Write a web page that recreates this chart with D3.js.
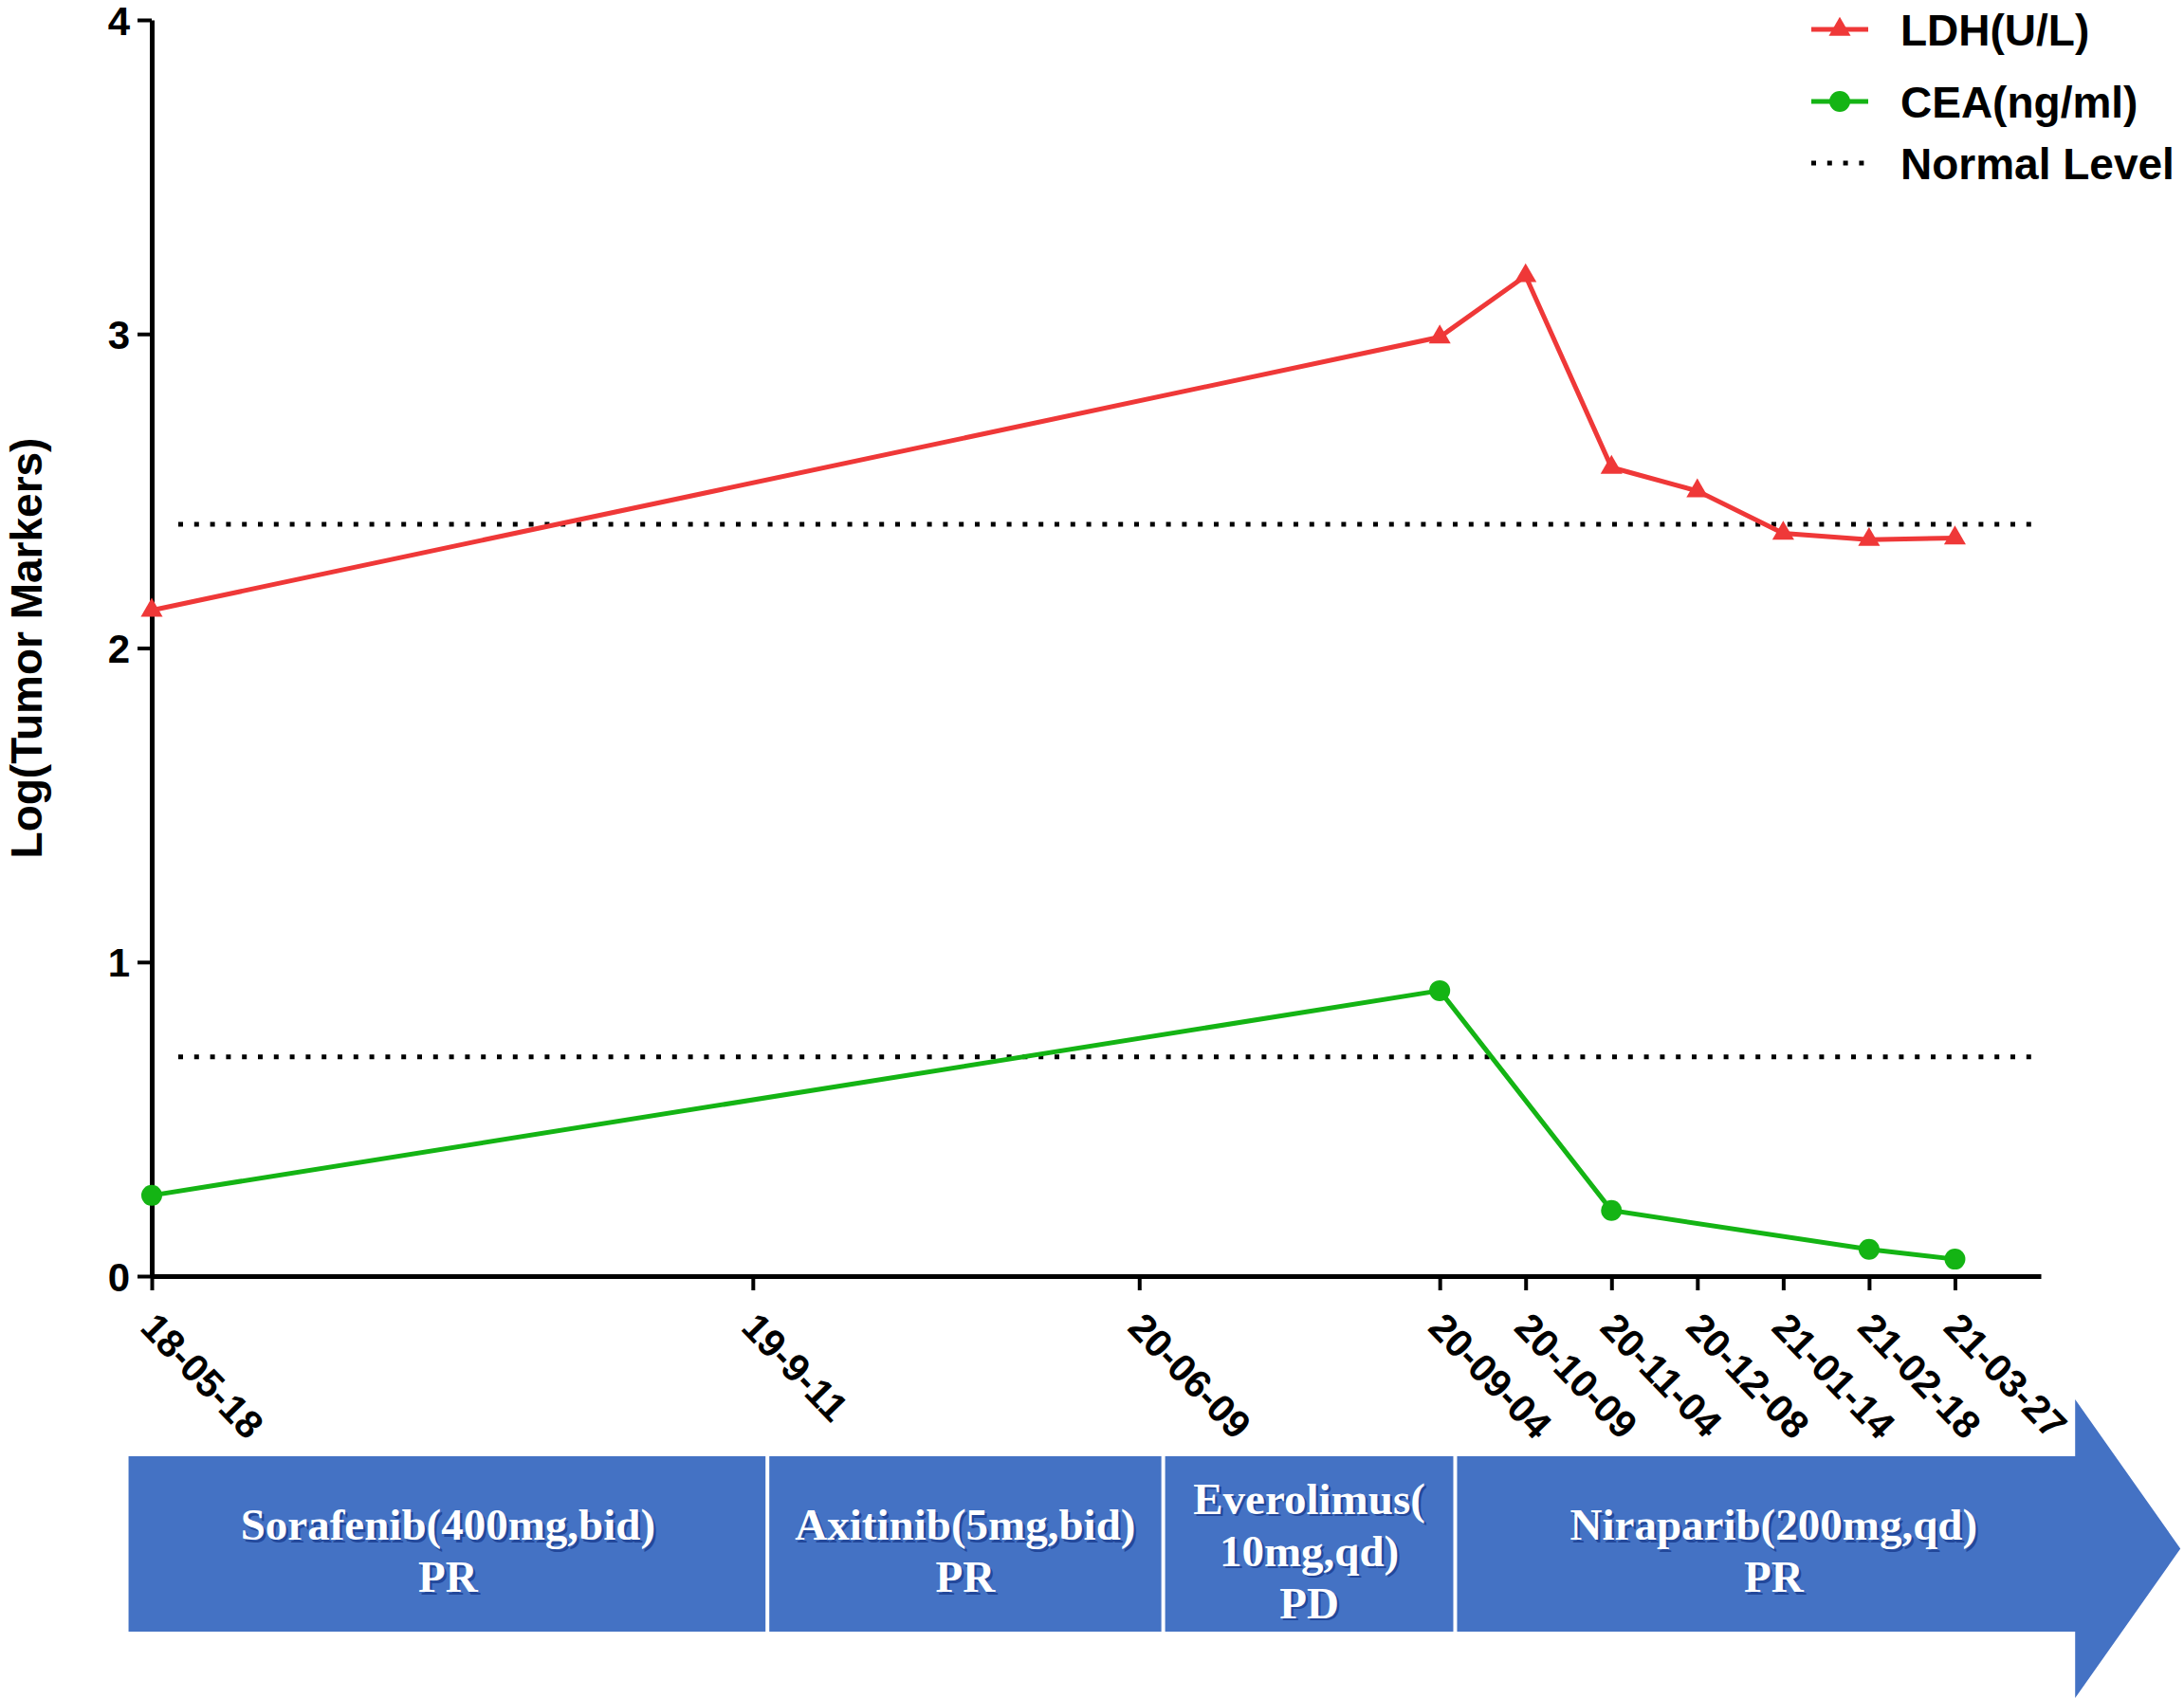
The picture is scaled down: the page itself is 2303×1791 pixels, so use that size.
<!DOCTYPE html>
<html>
<head>
<meta charset="utf-8">
<script src="https://cdn.jsdelivr.net/npm/d3@7"></script>
<style>
  body { margin: 0; background: #fff; }
  text { font-family: "Liberation Sans", Arial, sans-serif; font-weight: bold; }
  text.phase { font-family: "Liberation Serif", "Times New Roman", serif; }
</style>
</head>
<body>
<script>
// sampling dates on the x axis and their place on the (uneven) timeline, in months
var dateLabels = ["18-05-18", "19-9-11", "20-06-09", "20-09-04", "20-10-09", "20-11-04", "20-12-08", "21-01-14", "21-02-18", "21-03-27"];
var datePos = [0, 7, 11.5, 15, 16, 17, 18, 19, 20, 21];

var ldhDates = ["18-05-18", "20-09-04", "20-10-09", "20-11-04", "20-12-08", "21-01-14", "21-02-18", "21-03-27"];
var ldhValues = [2.12, 2.99, 3.185, 2.575, 2.50, 2.365, 2.345, 2.35];

var ceaDates = ["18-05-18", "20-09-04", "20-11-04", "21-02-18", "21-03-27"];
var ceaValues = [0.257, 0.909, 0.209, 0.085, 0.054];

var normalNames = ["LDH", "CEA"];
var normalValues = [2.394, 0.698];

var yTicks = [0, 1, 2, 3, 4];

// treatment phases under the chart
var phaseLabels = [
  ["Sorafenib(400mg,bid)", "PR"],
  ["Axitinib(5mg,bid)", "PR"],
  ["Everolimus(", "10mg,qd)", "PD"],
  ["Niraparib(200mg,qd)", "PR"]
];
var phaseBounds = [-0.27, 7.17, 11.78, 15.18, 22.4];

var width = 2303, height = 1791;
var red = "#ef3838", green = "#14b414", blue = "#4472c4";

var svg = d3.select("body").append("svg")
    .attr("width", width)
    .attr("height", height);

var x = d3.scaleLinear().domain([0, 22]).range([160, 2152]);
var y = d3.scaleLinear().domain([0, 4]).range([1346, 21]);

function posOf(label) { return datePos[dateLabels.indexOf(label)]; }

// normal level lines
svg.selectAll(".normal")
    .data(normalValues)
  .enter().append("line")
    .attr("class", "normal")
    .attr("x1", x(0) + 28)
    .attr("x2", x(22))
    .attr("y1", function(d) { return y(d); })
    .attr("y2", function(d) { return y(d); })
    .attr("stroke", "#000")
    .attr("stroke-width", 5)
    .attr("stroke-dasharray", "5,11.8");

// axes
var yAxis = svg.append("g")
    .attr("transform", "translate(" + x(0) + ",0)")
    .call(d3.axisLeft(y).tickValues(yTicks).tickFormat(d3.format("d"))
      .tickSize(15).tickSizeOuter(0).tickPadding(8));

var xAxis = svg.append("g")
    .attr("transform", "translate(0," + y(0) + ")")
    .call(d3.axisBottom(x).tickValues(datePos)
      .tickFormat(function(d, i) { return dateLabels[i]; })
      .tickSize(15).tickSizeOuter(0));

[yAxis, xAxis].forEach(function(ax) {
  ax.select(".domain").attr("stroke-width", 5).attr("stroke", "#000");
  ax.selectAll(".tick line").attr("stroke-width", 4).attr("stroke", "#000");
});

yAxis.selectAll(".tick text")
    .attr("font-size", 42)
    .attr("dy", "0.36em")
    .attr("fill", "#000");

xAxis.selectAll(".tick text")
    .attr("font-size", 41)
    .attr("fill", "#000")
    .attr("text-anchor", "start")
    .attr("y", 0)
    .attr("dy", "0.35em")
    .attr("transform", "translate(-4,46) rotate(46)");

svg.append("text")
    .attr("transform", "translate(44," + y(2) + ") rotate(-90)")
    .attr("text-anchor", "middle")
    .attr("font-size", 46)
    .text("Log(Tumor Markers)");

// series
var line = d3.line()
    .x(function(d) { return x(d.pos); })
    .y(function(d) { return y(d.value); });

var ldh = ldhDates.map(function(dt, i) { return {pos: posOf(dt), value: ldhValues[i]}; });
var cea = ceaDates.map(function(dt, i) { return {pos: posOf(dt), value: ceaValues[i]}; });

svg.append("path").datum(ldh)
    .attr("d", line).attr("fill", "none")
    .attr("stroke", red).attr("stroke-width", 5);

svg.append("path").datum(cea)
    .attr("d", line).attr("fill", "none")
    .attr("stroke", green).attr("stroke-width", 5);

var tri = d3.symbol().type(d3.symbolTriangle).size(230);

svg.selectAll(".ldh")
    .data(ldh)
  .enter().append("path")
    .attr("class", "ldh")
    .attr("d", tri)
    .attr("transform", function(d) { return "translate(" + x(d.pos) + "," + y(d.value) + ")"; })
    .attr("fill", red);

svg.selectAll(".cea")
    .data(cea)
  .enter().append("circle")
    .attr("class", "cea")
    .attr("cx", function(d) { return x(d.pos); })
    .attr("cy", function(d) { return y(d.value); })
    .attr("r", 11)
    .attr("fill", green);

// legend
var legend = svg.append("g").attr("transform", "translate(1910,0)");
var rows = [31, 107, 172];

legend.append("line").attr("x1", 0).attr("x2", 60).attr("y1", rows[0]).attr("y2", rows[0])
    .attr("stroke", red).attr("stroke-width", 5);
legend.append("path").attr("d", tri).attr("fill", red)
    .attr("transform", "translate(30," + rows[0] + ")");
legend.append("line").attr("x1", 0).attr("x2", 60).attr("y1", rows[1]).attr("y2", rows[1])
    .attr("stroke", green).attr("stroke-width", 5);
legend.append("circle").attr("cx", 30).attr("cy", rows[1]).attr("r", 11).attr("fill", green);
legend.append("line").attr("x1", 0).attr("x2", 56).attr("y1", rows[2]).attr("y2", rows[2])
    .attr("stroke", "#000").attr("stroke-width", 5).attr("stroke-dasharray", "5,11.8");

legend.selectAll(".lg")
    .data(["LDH(U/L)", "CEA(ng/ml)", "Normal Level"])
  .enter().append("text")
    .attr("x", 94)
    .attr("y", function(d, i) { return rows[i]; })
    .attr("dy", "0.36em")
    .attr("font-size", 46)
    .text(function(d) { return d; });

// treatment arrow
var boxTop = 1536, boxBottom = 1721, headTop = 1476, headBottom = 1791, headLen = 111;
var bodyEnd = x(phaseBounds[phaseBounds.length - 1]);
var midY = (headTop + headBottom) / 2;

svg.append("path")
    .attr("d", "M" + x(phaseBounds[0]) + "," + boxTop +
               "H" + bodyEnd + "V" + headTop +
               "L" + (bodyEnd + headLen) + "," + midY +
               "L" + bodyEnd + "," + headBottom +
               "V" + boxBottom + "H" + x(phaseBounds[0]) + "Z")
    .attr("fill", blue);

svg.selectAll(".divider")
    .data(phaseBounds.slice(1, -1))
  .enter().append("line")
    .attr("x1", function(d) { return x(d); })
    .attr("x2", function(d) { return x(d); })
    .attr("y1", boxTop)
    .attr("y2", boxBottom)
    .attr("stroke", "#fff")
    .attr("stroke-width", 4);

var lineGap = 55, blockMid = 1636;
phaseLabels.forEach(function(lines, i) {
  var cx = (x(phaseBounds[i]) + x(phaseBounds[i + 1])) / 2;
  if (i === phaseLabels.length - 1) cx += 9;
  var g = svg.append("g");
  lines.forEach(function(t, j) {
    var cy = blockMid + (j - (lines.length - 1) / 2) * lineGap;
    [["#23489a", 2.5], ["#fff", 0]].forEach(function(s) {
      g.append("text")
          .attr("class", "phase")
          .attr("x", cx + s[1])
          .attr("y", cy + s[1])
          .attr("dy", "0.33em")
          .attr("text-anchor", "middle")
          .attr("font-size", 47)
          .attr("fill", s[0])
          .text(t);
    });
  });
});
</script>
</body>
</html>
